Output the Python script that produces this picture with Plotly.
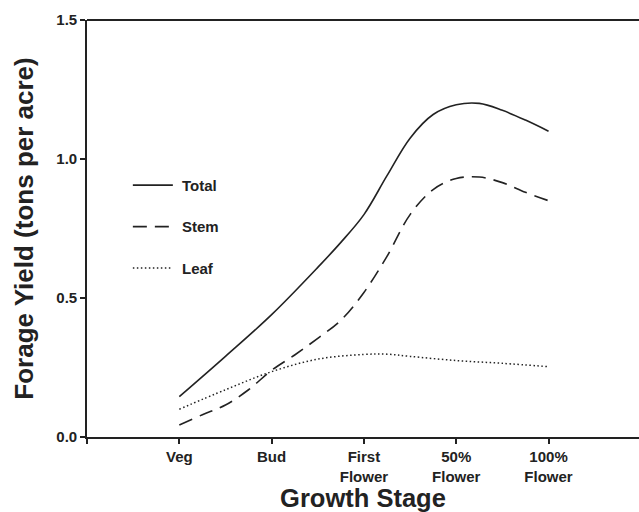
import plotly.graph_objects as go

stage_labels = ["", "Veg", "Bud", "First<br>Flower", "50%<br>Flower", "100%<br>Flower"]
stage_pos = [0, 1, 2, 3, 4, 5]

total_x = [1.0, 1.5, 2.0, 2.5, 2.75, 3.0, 3.25, 3.5, 3.75, 4.0, 4.25, 4.5, 4.75, 5.0]
total_y = [0.145, 0.29, 0.44, 0.61, 0.70, 0.80, 0.94, 1.075, 1.16, 1.195, 1.20, 1.175, 1.14, 1.10]

stem_x = [1.0, 1.25, 1.5, 1.75, 2.0, 2.25, 2.5, 2.75, 3.0, 3.25, 3.5, 3.75, 4.0, 4.25, 4.5, 4.75, 5.0]
stem_y = [0.043, 0.08, 0.115, 0.17, 0.24, 0.295, 0.355, 0.42, 0.52, 0.65, 0.80, 0.89, 0.93, 0.935, 0.915, 0.88, 0.85]

leaf_x = [1.0, 1.5, 2.0, 2.5, 3.0, 3.25, 3.5, 4.0, 4.5, 5.0]
leaf_y = [0.10, 0.17, 0.235, 0.28, 0.297, 0.298, 0.29, 0.275, 0.265, 0.253]

y_ticks = [0, 0.5, 1.0, 1.5]
y_labels = ["0.0", "0.5", "1.0", "1.5"]

ink = "#222222"
font = "Liberation Sans, Arial, sans-serif"

fig = go.Figure()
fig.add_trace(go.Scatter(x=total_x, y=total_y, mode="lines", name="<b>&nbsp;Total</b>",
                         legendgroup="a",
                         line=dict(color=ink, width=1.6, shape="spline", smoothing=1.0)))
fig.add_trace(go.Scatter(x=stem_x, y=stem_y, mode="lines", name="<b>&nbsp;Stem</b>",
                         legendgroup="b",
                         line=dict(color=ink, width=1.6, shape="spline", smoothing=1.0,
                                   dash="14px,8px")))
fig.add_trace(go.Scatter(x=leaf_x, y=leaf_y, mode="lines", name="<b>&nbsp;Leaf</b>",
                         legendgroup="c",
                         line=dict(color=ink, width=1.5, shape="spline", smoothing=1.0,
                                   dash="1.5px,2.5px")))

fig.add_shape(type="line", xref="paper", yref="paper", x0=0, x1=1.01, y0=1, y1=1,
              line=dict(color=ink, width=2))

fig.update_layout(
    width=639, height=512,
    margin=dict(l=87, r=0, t=20, b=75, autoexpand=False),
    paper_bgcolor="white", plot_bgcolor="white",
    font=dict(family=font, color=ink),
    showlegend=True,
    legend=dict(x=0.074, y=0.643, xanchor="left", yanchor="top",
                bgcolor="rgba(0,0,0,0)", font=dict(size=15, family=font, color=ink),
                tracegroupgap=19, itemwidth=40),
    xaxis=dict(range=[0, 5.98], tickvals=stage_pos,
               ticktext=["<b>%s</b>" % t.replace("<br>", "</b><br><b>") if t else "" for t in stage_labels],
               showline=True, linecolor=ink, linewidth=2, mirror=False,
               ticks="outside", ticklen=5, tickwidth=1.5, tickcolor=ink,
               showgrid=False, zeroline=False, automargin=False,
               tickfont=dict(size=15, family=font, color=ink),
               title=dict(text="<b>Growth Stage</b>", font=dict(size=25.5, family=font, color=ink),
                          standoff=3)),
    yaxis=dict(range=[0, 1.5], tickvals=y_ticks, ticktext=["<b>%s</b>" % t for t in y_labels],
               showline=True, linecolor=ink, linewidth=1.6, mirror=False,
               ticks="outside", ticklen=5, tickwidth=1.5, tickcolor=ink,
               showgrid=False, zeroline=False, automargin=False,
               tickfont=dict(size=15, family=font, color=ink),
               title=dict(text="<b>Forage Yield (tons per acre)</b>",
                          font=dict(size=26, family=font, color=ink), standoff=15)),
)

fig.write_html("out.html", config={"displayModeBar": False},
               post_script="document.body.style.margin='0';document.body.style.overflow='hidden';")
